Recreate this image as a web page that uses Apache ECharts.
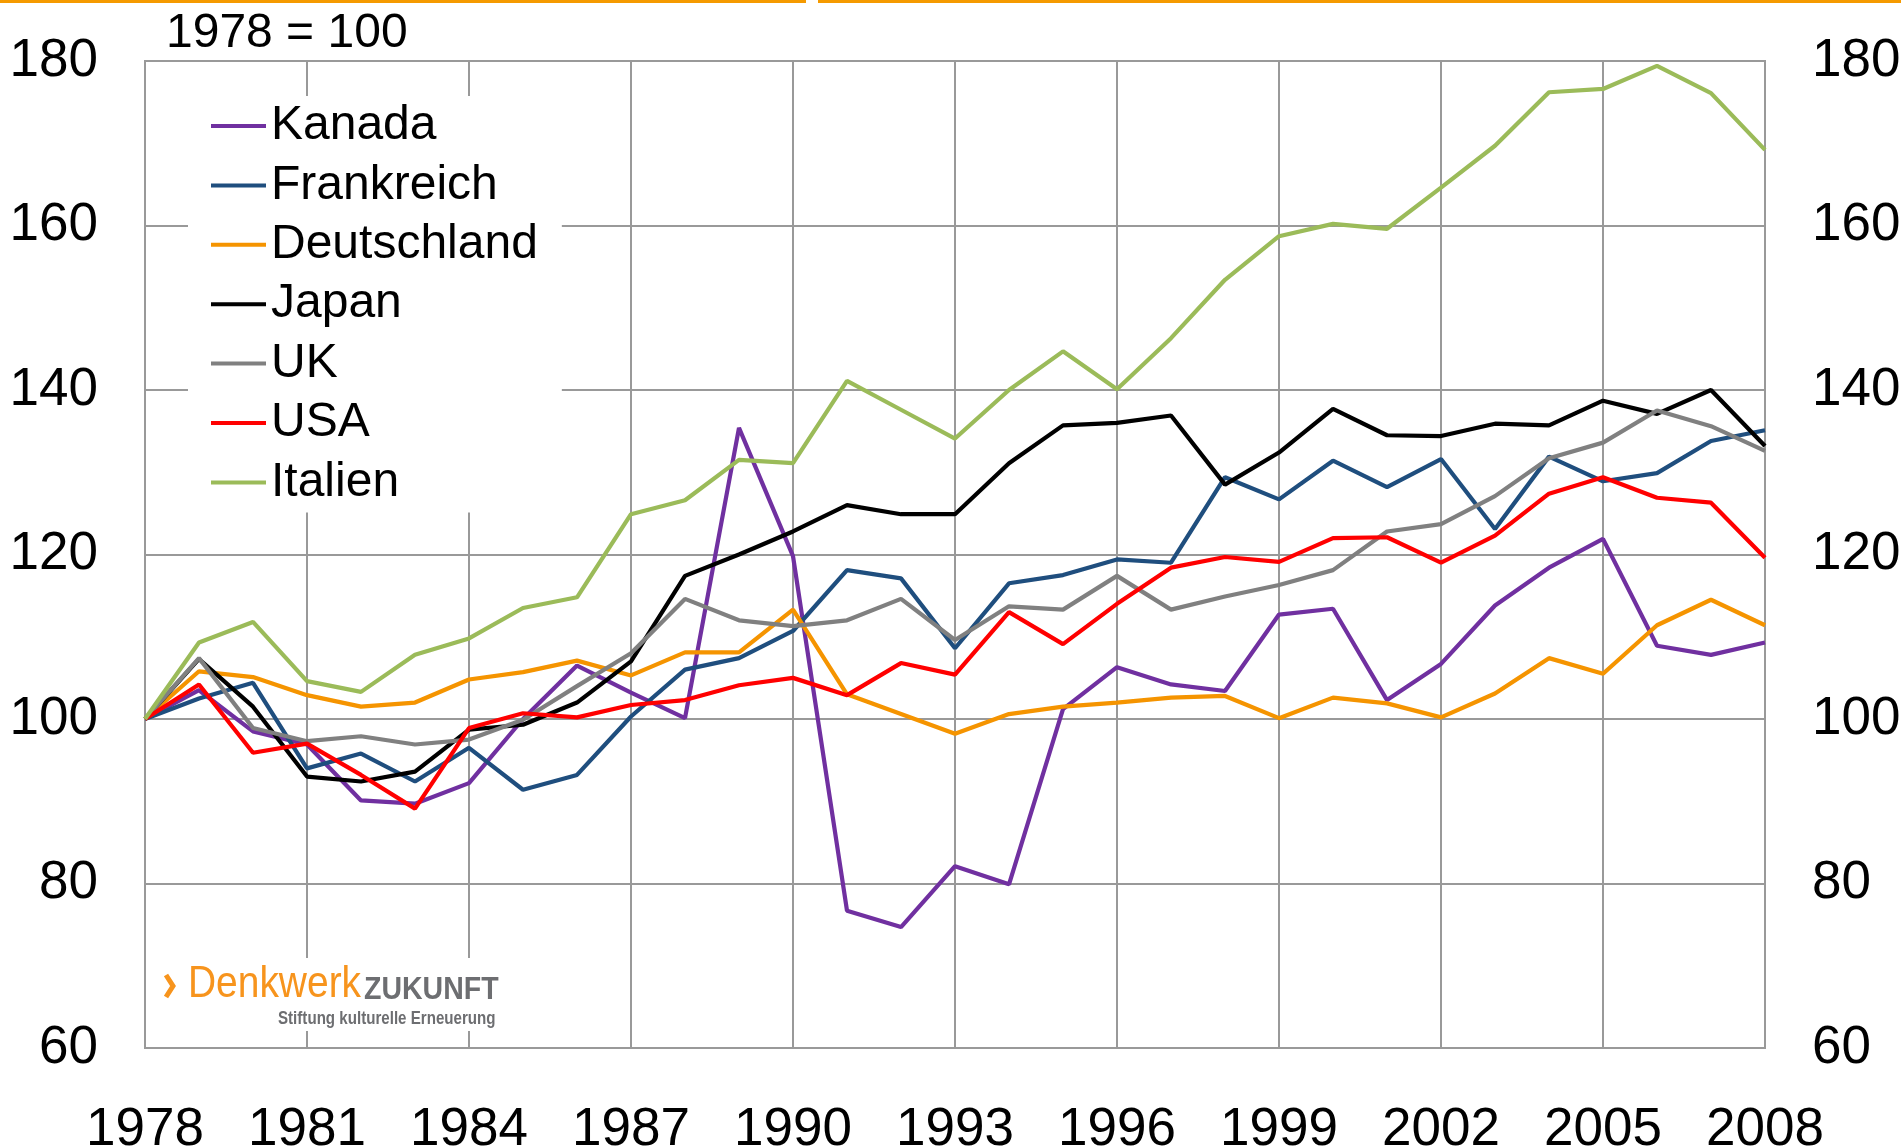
<!DOCTYPE html>
<html>
<head>
<meta charset="utf-8">
<script src="https://cdn.jsdelivr.net/npm/echarts@6/dist/echarts.min.js"></script>
<style>
html,body{margin:0;padding:0;background:#fff;}
#chart{width:1901px;height:1148px;}
</style>
</head>
<body>
<div id="chart"></div>
<script>
var years = [];
for (var y = 1978; y <= 2008; y++) years.push(String(y));

var yTicks = [60, 80, 100, 120, 140, 160, 180];

var kanada = [100,103.5,98.5,96.9,90.1,89.7,92.2,100.0,106.5,103.2,100.1,135.4,119.8,76.7,74.7,82.1,79.9,101.2,106.3,104.2,103.4,112.7,113.4,102.3,106.7,113.8,118.4,121.9,108.9,107.8,109.3];
var frankreich = [100,102.5,104.4,94.0,95.8,92.4,96.5,91.4,93.2,100.3,106.0,107.4,110.7,118.1,117.1,108.6,116.5,117.5,119.4,119.0,129.4,126.7,131.4,128.2,131.6,123.1,131.9,128.9,129.9,133.8,135.1];
var deutschland = [100,105.8,105.1,102.9,101.5,102.0,104.8,105.7,107.1,105.3,108.1,108.1,113.3,103.0,100.6,98.2,100.6,101.5,102.0,102.6,102.8,100.1,102.6,101.9,100.2,103.1,107.4,105.5,111.4,114.5,111.4];
var japan = [100,107.3,101.5,93.0,92.4,93.6,98.7,99.3,102.0,107.0,117.4,120.0,122.8,126.0,124.9,124.9,131.1,135.7,136.0,136.9,128.5,132.4,137.7,134.5,134.4,135.9,135.7,138.7,137.1,140.0,133.2];
var uk = [100,107.4,98.9,97.3,97.9,96.9,97.5,99.9,104.0,108.0,114.6,112.0,111.3,112.0,114.6,109.6,113.7,113.3,117.4,113.3,114.9,116.3,118.1,122.8,123.7,127.1,131.7,133.6,137.5,135.6,132.6];
var usa = [100,104.2,95.9,97.0,93.2,89.1,98.9,100.7,100.2,101.7,102.3,104.1,105.0,102.9,106.8,105.4,113.0,109.1,114.0,118.4,119.7,119.1,122.0,122.1,119.0,122.3,127.4,129.4,126.9,126.3,119.6];
var italien = [100,109.3,111.8,104.6,103.3,107.8,109.8,113.5,114.8,124.9,126.6,131.5,131.1,141.1,137.6,134.1,140.0,144.7,140.1,146.3,153.4,158.7,160.2,159.6,164.6,169.7,176.2,176.6,179.4,176.1,169.2];

var seriesNames = ['Kanada','Frankreich','Deutschland','Japan','UK','USA','Italien'];
var seriesData = [kanada, frankreich, deutschland, japan, uk, usa, italien];
var seriesColors = ['#7030A0','#1F4E7E','#F59400','#000000','#808080','#FF0000','#9BBB59'];

var FONT = "'Liberation Sans', Arial, sans-serif";

var chart = echarts.init(document.getElementById('chart'), null, {renderer:'canvas'});

var series = seriesNames.map(function(n, i){
  return {
    name: n, type: 'line', data: seriesData[i], yAxisIndex: 0,
    symbol: 'none', smooth: false,
    lineStyle: {color: seriesColors[i], width: 4.2},
    itemStyle: {color: seriesColors[i]},
    emphasis: {disabled: true}
  };
});

var yAxisBase = function(pos, split){
  return {
    type: 'value', position: pos, min: yTicks[0], max: yTicks[yTicks.length-1], interval: 20,
    axisLine: {show: false}, axisTick: {show: false},
    axisLabel: {fontSize: 53, color: '#000', fontFamily: FONT, margin: 47},
    splitLine: {show: split, lineStyle: {color: '#999999', width: 2}}
  };
};

chart.setOption({
  animation: false,
  backgroundColor: '#fff',
  grid: {left: 145, right: 136, top: 61, bottom: 100, show: true, borderColor: '#999999', borderWidth: 2, backgroundColor: 'transparent', containLabel: false, outerBoundsMode: 'none'},
  xAxis: {
    type: 'category', data: years, boundaryGap: false,
    axisLine: {show: false}, axisTick: {show: false, interval: 2},
    axisLabel: {interval: 2, fontSize: 53, color: '#000', fontFamily: FONT, margin: 56},
    splitLine: {show: true, interval: 2, lineStyle: {color: '#999999', width: 2}}
  },
  yAxis: [yAxisBase('left', true), yAxisBase('right', false)],
  legend: {
    orient: 'vertical', left: 188, top: 96,
    backgroundColor: '#fff',
    padding: [4, 24, 4, 23],
    itemWidth: 55, itemHeight: 4, itemGap: 7.4,
    icon: 'rect',
    data: seriesNames,
    textStyle: {fontSize: 48, color: '#000', fontFamily: FONT, lineHeight: 52},
    selectedMode: false
  },
  graphic: [
    {type: 'rect', left: 0, top: 0, z: 100, shape: {width: 806, height: 3}, style: {fill: '#F59A00'}},
    {type: 'rect', left: 818, top: 0, z: 100, shape: {width: 1083, height: 3}, style: {fill: '#F59A00'}},
    {type: 'text', left: 166, top: 10, z: 100, style: {text: '1978 = 100', font: '48px ' + FONT, fill: '#000'}},
    {type: 'rect', left: 147, top: 958, z: 50, shape: {width: 360, height: 73}, style: {fill: '#fff'}},
    {type: 'polyline', z: 60, shape: {points: [[166,975],[173,986],[166,997]]}, style: {stroke: '#F7941D', lineWidth: 5, fill: null}},
    {type: 'text', x: 188, y: 962, scaleX: 0.865, z: 60, style: {x: 0, y: 0, text: 'Denkwerk', font: '45px ' + FONT, fill: '#F7941D'}},
    {type: 'text', x: 364, y: 975, scaleX: 0.92, z: 60, style: {x: 0, y: 0, text: 'ZUKUNFT', font: 'bold 31px ' + FONT, fill: '#6D6E71'}},
    {type: 'text', x: 278, y: 1010, scaleX: 0.84, z: 60, style: {x: 0, y: 0, text: 'Stiftung kulturelle Erneuerung', font: 'bold 18px ' + FONT, fill: '#6D6E71'}}
  ],
  series: series
});
</script>
</body>
</html>
